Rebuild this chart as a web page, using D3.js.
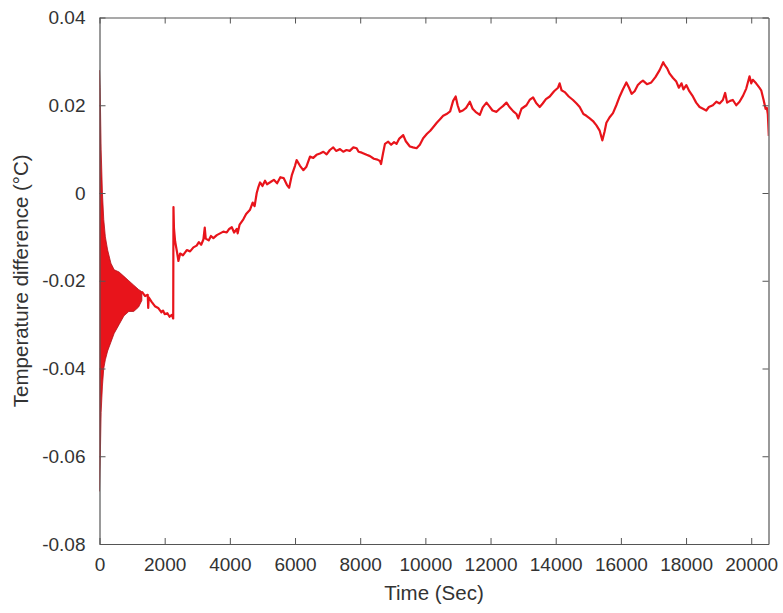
<!DOCTYPE html>
<html>
<head>
<meta charset="utf-8">
<script src="https://cdn.jsdelivr.net/npm/d3@7"></script>
<style>
  html, body { margin: 0; padding: 0; background: #fff; }
  text { font-family: Arial, 'Liberation Sans', sans-serif; fill: #333; }
</style>
</head>
<body>
<div id="chart"></div>
<script>
// oscillating start of the record, drawn as a filled band
var bandTime = [0, 20, 50, 90, 130, 180, 250, 350, 450, 600, 750, 900, 1050, 1200, 1300];
var bandHigh = [0.028, 0.024, 0.010, 0.0, -0.006, -0.010, -0.013, -0.016, -0.0175, -0.018, -0.019, -0.020, -0.021, -0.022, -0.0225];
var bandLow = [-0.068, -0.062, -0.050, -0.044, -0.040, -0.038, -0.036, -0.034, -0.032, -0.030, -0.028, -0.027, -0.027, -0.026, -0.0245];

// rest of the trace
var lineTime = [1300, 1400, 1480, 1495, 1510, 1600, 1700, 1800, 1900, 1950, 2000, 2080, 2150, 2220, 2262,
  2270, 2285, 2320, 2380, 2422, 2474, 2560, 2679, 2780, 2882, 2980, 3050, 3120, 3188, 3230, 3260, 3350,
  3420, 3495, 3600, 3700, 3800, 3906, 3980, 4060, 4130, 4212, 4240, 4300, 4414, 4500, 4620, 4700, 4760,
  4825, 4870, 4927, 5000, 5080, 5141, 5250, 5350, 5450, 5550, 5650, 5754, 5820, 5900, 6000, 6050, 6153,
  6254, 6350, 6460, 6560, 6660, 6766, 6870, 6970, 7070, 7173, 7260, 7380, 7480, 7580, 7680, 7790, 7891,
  7950, 8050, 8197, 8300, 8420, 8530, 8605, 8640, 8700, 8760, 8860, 8950, 9040, 9117, 9200, 9320, 9400,
  9525, 9620, 9730, 9830, 9933, 10050, 10150, 10239, 10350, 10450, 10546, 10650, 10760, 10852, 10930,
  10990, 11058, 11150, 11250, 11364, 11450, 11540, 11671, 11760, 11876, 11960, 12060, 12183, 12280, 12380,
  12489, 12580, 12700, 12796, 12850, 12950, 13102, 13200, 13305, 13400, 13510, 13600, 13700, 13817, 13950,
  14071, 14120, 14180, 14276, 14400, 14531, 14640, 14736, 14850, 14942, 15044, 15144, 15250, 15349, 15432,
  15500, 15555, 15650, 15757, 15860, 15963, 16060, 16168, 16250, 16330, 16422, 16520, 16600, 16677, 16800,
  16934, 17060, 17189, 17300, 17342, 17420, 17496, 17600, 17701, 17780, 17860, 17920, 18007, 18100, 18210,
  18310, 18415, 18520, 18620, 18700, 18823, 18930, 19030, 19129, 19200, 19260, 19350, 19436, 19540, 19641,
  19750, 19847, 19948, 20000, 20049, 20150, 20250, 20306, 20380, 20440, 20480, 20509, 20540];
var lineValue = [-0.0225, -0.0235, -0.0232, -0.0262, -0.0238, -0.0248, -0.0258, -0.0262, -0.0272, -0.0268,
  -0.0276, -0.0274, -0.0282, -0.0278, -0.0286,
  -0.0032, -0.0080, -0.0110, -0.0135, -0.0155, -0.0138, -0.0142, -0.0130, -0.0133, -0.0124, -0.0120, -0.0112,
  -0.0118, -0.0106, -0.0079, -0.0104, -0.0108, -0.0098, -0.0103, -0.0096, -0.0092, -0.0088, -0.0090, -0.0082,
  -0.0078, -0.0090, -0.0082, -0.0092, -0.0072, -0.0060, -0.0048, -0.0038, -0.0022, -0.0030, 0.0000, 0.0012,
  0.0024, 0.0016, 0.0028, 0.0020, 0.0025, 0.0030, 0.0022, 0.0036, 0.0034, 0.0018, 0.0012, 0.0040, 0.0062,
  0.0075, 0.0062, 0.0052, 0.0060, 0.0083, 0.0080, 0.0087, 0.0090, 0.0094, 0.0088, 0.0098, 0.0104, 0.0096,
  0.0100, 0.0094, 0.0098, 0.0096, 0.0104, 0.0102, 0.0094, 0.0092, 0.0087, 0.0084, 0.0078, 0.0076, 0.0073,
  0.0066, 0.0090, 0.0112, 0.0117, 0.0110, 0.0116, 0.0112, 0.0124, 0.0132, 0.0118, 0.0106, 0.0104, 0.0102,
  0.0110, 0.0125, 0.0135, 0.0142, 0.0150, 0.0160, 0.0168, 0.0176, 0.0180, 0.0186, 0.0210, 0.0220, 0.0200,
  0.0185, 0.0188, 0.0194, 0.0208, 0.0192, 0.0185, 0.0178, 0.0195, 0.0206, 0.0198, 0.0188, 0.0185, 0.0192,
  0.0198, 0.0206, 0.0196, 0.0186, 0.0180, 0.0170, 0.0192, 0.0200, 0.0212, 0.0218, 0.0205, 0.0196, 0.0204,
  0.0214, 0.0220, 0.0232, 0.0240, 0.0250, 0.0234, 0.0230, 0.0220, 0.0212, 0.0204, 0.0196, 0.0180, 0.0176,
  0.0170, 0.0164, 0.0154, 0.0142, 0.0120, 0.0140, 0.0160, 0.0172, 0.0182, 0.0200, 0.0220, 0.0236, 0.0252,
  0.0240, 0.0226, 0.0232, 0.0246, 0.0252, 0.0256, 0.0248, 0.0252, 0.0264, 0.0280, 0.0298, 0.0292, 0.0284,
  0.0272, 0.0262, 0.0254, 0.0240, 0.0250, 0.0236, 0.0246, 0.0232, 0.0220, 0.0206, 0.0196, 0.0192, 0.0188,
  0.0196, 0.0200, 0.0208, 0.0204, 0.0212, 0.0228, 0.0206, 0.0210, 0.0212, 0.0200, 0.0208, 0.0222, 0.0238,
  0.0266, 0.0250, 0.0258, 0.0250, 0.0240, 0.0234, 0.0212, 0.0192, 0.0194, 0.0180, 0.0130];

var xTicks = [0, 2000, 4000, 6000, 8000, 10000, 12000, 14000, 16000, 18000, 20000];
var yTicks = [-0.08, -0.06, -0.04, -0.02, 0, 0.02, 0.04];
var xLabel = 'Time (Sec)';
var yLabel = 'Temperature difference (°C)';

var Chart = (function() {

  Chart.width = 783;
  Chart.height = 613;
  Chart.margin = { top: 17.5, right: 14.5, bottom: 69, left: 99.5 };
  Chart.tickSize = 6;
  Chart.red = '#e8141b';

  function Chart() {
    this.w = Chart.width - Chart.margin.left - Chart.margin.right;
    this.h = Chart.height - Chart.margin.top - Chart.margin.bottom;
    this.buildScales();
    this.buildSVG();
    this.buildData();
    this.buildAxes();
  }

  Chart.prototype.buildScales = function() {
    this.x = d3.scaleLinear().domain([0, 20530]).range([0, this.w]);
    this.y = d3.scaleLinear().domain([-0.08, 0.04]).range([this.h, 0]);
  }

  Chart.prototype.buildSVG = function() {
    this.svg = d3.select('#chart')
      .append('svg')
      .attr('width', Chart.width)
      .attr('height', Chart.height)
      .append('g')
      .attr('transform', 'translate(' + Chart.margin.left + ',' + Chart.margin.top + ')');
  }

  Chart.prototype.buildData = function() {
    var _this = this;
    this.svg.append('clipPath').attr('id', 'plot-clip')
      .append('rect').attr('width', this.w).attr('height', this.h);
    var plot = this.svg.append('g').attr('clip-path', 'url(#plot-clip)');

    var band = bandTime.map(function(t, i) { return { t: t, hi: bandHigh[i], lo: bandLow[i] } });
    plot.append('path')
      .datum(band)
      .attr('d', d3.area()
        .x(function(d) { return _this.x(d.t) })
        .y0(function(d) { return _this.y(d.lo) })
        .y1(function(d) { return _this.y(d.hi) }))
      .style('fill', Chart.red)
      .style('stroke', '#b3121a')
      .style('stroke-width', 0.8);

    var trace = lineTime.map(function(t, i) { return { t: t, v: lineValue[i] } });
    plot.append('path')
      .datum(trace)
      .attr('d', d3.line()
        .x(function(d) { return _this.x(d.t) })
        .y(function(d) { return _this.y(d.v) }))
      .style('fill', 'none')
      .style('stroke', Chart.red)
      .style('stroke-width', 2.2)
      .style('stroke-linejoin', 'round');
  }

  Chart.prototype.buildAxes = function() {
    var ts = Chart.tickSize;
    var fmtX = d3.format('d');
    var fmtY = function(d) { return d === 0 ? '0' : d3.format('.2f')(d).replace('\u2212', '-') };
    var axes = [
      { axis: d3.axisBottom(this.x).tickValues(xTicks).tickSizeInner(-ts).tickPadding(14).tickFormat(fmtX), at: [0, this.h], labels: true },
      { axis: d3.axisTop(this.x).tickValues(xTicks).tickSizeInner(-ts), at: [0, 0], labels: false },
      { axis: d3.axisLeft(this.y).tickValues(yTicks).tickSizeInner(-ts).tickPadding(14).tickFormat(fmtY), at: [0, 0], labels: true },
      { axis: d3.axisRight(this.y).tickValues(yTicks).tickSizeInner(-ts), at: [this.w, 0], labels: false }
    ];
    var _this = this;
    axes.forEach(function(a) {
      var g = _this.svg.append('g')
        .attr('transform', 'translate(' + a.at[0] + ',' + a.at[1] + ')')
        .call(a.axis.tickSizeOuter(0));
      g.select('.domain').style('stroke', '#555').style('stroke-width', 1.2);
      g.selectAll('.tick line').style('stroke', '#555').style('stroke-width', 1);
      g.selectAll('.tick text')
        .style('font-size', '19px')
        .style('fill', '#333')
        .style('display', a.labels ? null : 'none');
    });

    this.svg.append('text')
      .attr('x', this.w / 2)
      .attr('y', this.h + 56)
      .attr('text-anchor', 'middle')
      .style('font-size', '20.5px')
      .text(xLabel);

    this.svg.append('text')
      .attr('transform', 'translate(' + (-72) + ',' + (this.h / 2) + ') rotate(-90)')
      .attr('text-anchor', 'middle')
      .style('font-size', '20.5px')
      .text(yLabel);
  }

  return Chart;

})();

new Chart();
</script>
</body>
</html>
